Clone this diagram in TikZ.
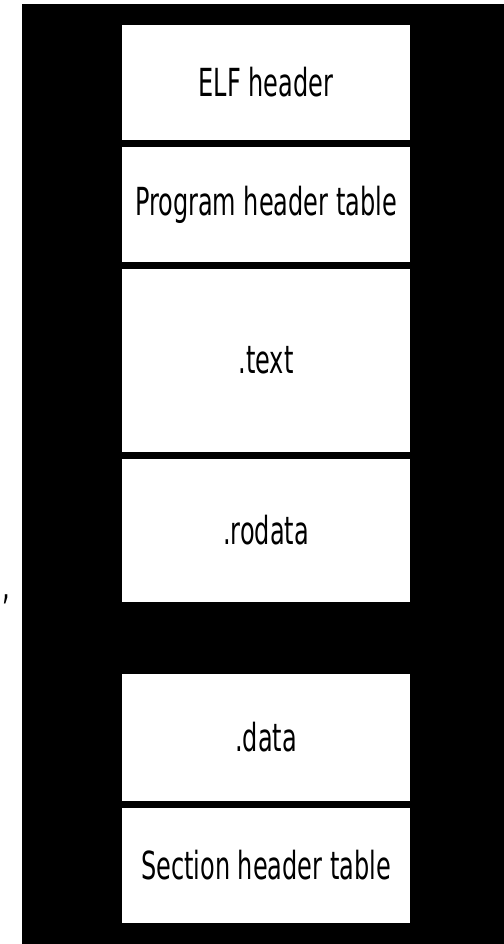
\documentclass[tikz,border=0pt]{standalone}
\usepackage{fontspec}
\setmainfont[FakeStretch=0.69]{DejaVu Sans Condensed}
\usepackage{tikz}
\usetikzlibrary{positioning}

\begin{document}
\begin{tikzpicture}[x=0.02cm, y=-0.02cm, font=\fontsize{22}{26}\selectfont,
  sect/.style={fill=white, inner sep=0pt, minimum width=5.76cm}]
% background
\useasboundingbox (0,0) rectangle (504,944);
\fill[white] (0,0) rectangle (504,944);
\fill[black] (22,4) rectangle (504,944);
\node (comma) at (6,599) {,};
% sections of the file
\node[sect, minimum height=2.3cm] (elfhdr) at (266,82.5) {ELF header};
\node[sect, minimum height=2.3cm] (phdrtab) at (266,204.5) {Program header table};
\node[sect, minimum height=3.66cm] (text) at (266,360.5) {.text};
\node[sect, minimum height=2.86cm] (rodata) at (266,530.5) {.rodata};
\node[sect, minimum height=2.54cm] (data) at (266,737.5) {.data};
\node[sect, minimum height=2.3cm] (shdrtab) at (266,865.5) {Section header table};
\end{tikzpicture}
\end{document}
